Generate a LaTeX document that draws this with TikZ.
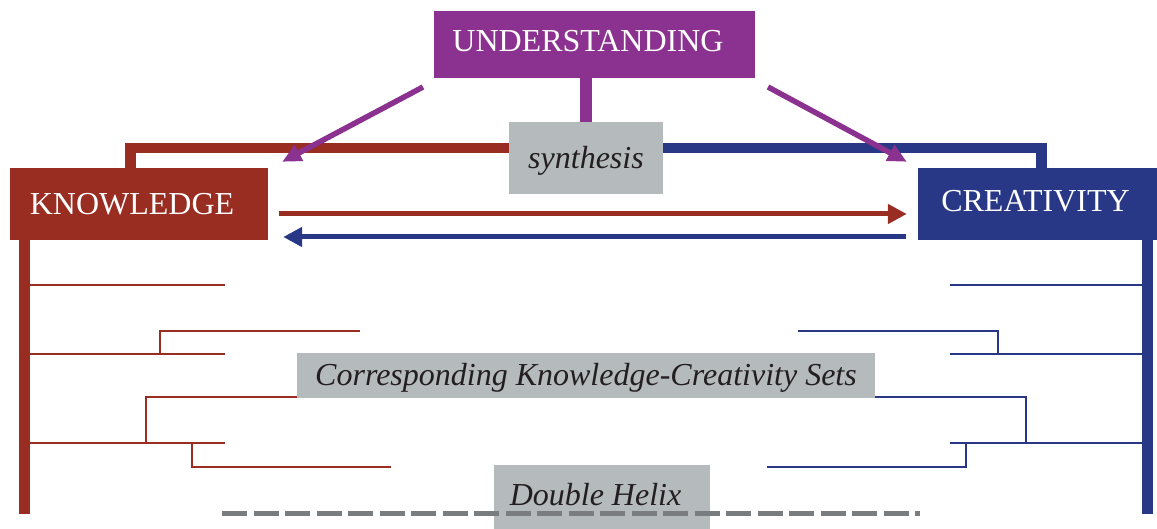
\documentclass[tikz,border=0pt]{standalone}
\usepackage{fontspec}
\setmainfont{Liberation Serif}
\usetikzlibrary{arrows.meta,calc}
\definecolor{upurple}{HTML}{8B318F}
\definecolor{kred}{HTML}{992D22}
\definecolor{cblue}{HTML}{283887}
\definecolor{boxgray}{HTML}{B5BABC}
\definecolor{dashgray}{HTML}{7A7D80}
\definecolor{labeltext}{HTML}{231F20}
\begin{document}
\begin{tikzpicture}[x=1pt,y=-1pt,
  boxlabel/.style={inner sep=0pt, text depth=0pt, font=\fontsize{32}{36}\selectfont},
  headbox/.style={boxlabel, text=white},
  graybox/.style={boxlabel, fill=boxgray, text=labeltext, font=\fontsize{32}{36}\selectfont\itshape},
  trunk/.style={line width=11pt},
  bond/.style={line width=10.5pt},
  twig/.style={line width=2.3pt},
  flow/.style={line width=5pt, -{Triangle[length=19pt,width=19pt]}},
  diag/.style={line width=5.5pt, upurple, -{Triangle[length=19pt,width=17pt]}},
  helix/.style={dashgray, line width=5pt, dash pattern=on 25pt off 6.5pt}
]
\useasboundingbox (0,0) rectangle (1157,529);

% boxes
\node[headbox, fill=upurple, minimum width=321pt, minimum height=67pt, text height=14.4pt] (und) at (594.5,44.5) {UNDERSTANDING\kern13pt};
\node[graybox, minimum width=154pt, minimum height=72pt, text height=20.6pt] (syn) at (586,158) {synthesis};
\node[headbox, fill=kred, minimum width=258pt, minimum height=72pt, text height=22pt] (know) at (139,204) {KNOWLEDGE\kern14pt};
\node[headbox, fill=cblue, minimum width=239pt, minimum height=72pt, text height=16pt] (crea) at (1037.5,204) {CREATIVITY\kern4pt};
\node[graybox, minimum width=578pt, minimum height=45pt, text height=19pt] (cks) at (586,375.5) {Corresponding Knowledge-Creativity Sets};
\node[graybox, minimum width=216pt, minimum height=64pt, text height=16pt] (dh) at (602,497) {Double Helix\kern13pt};

% understanding stem and synthesis bonds
\draw[upurple, line width=11.5pt] (syn.north |- und.south) -- (syn.north);
\draw[kred, bond] ([yshift=10pt]syn.west) -| ([xshift=-8.5pt]know.north);
\draw[cblue, bond] ([yshift=10pt]syn.east) -| ([xshift=4pt]crea.north);

% flows between knowledge and creativity
\draw[kred, flow] ([xshift=11pt,yshift=-10pt]know.east) -- ([xshift=-11pt,yshift=-10pt]crea.west);
\draw[cblue, flow] ([xshift=-12pt,yshift=-33pt]crea.west) -- ([xshift=15pt,yshift=-33pt]know.east);

% diagonal arrows from understanding
\coordinate (dl) at (423,87);
\coordinate (dr) at (768,87);
\draw[diag] (dl) -- ([xshift=14pt,yshift=6pt]know.north east);
\draw[diag] (dr) -- ([xshift=-11pt,yshift=6pt]crea.north west);

% trunks
\coordinate (kb) at (24.5,513.5);
\coordinate (cb) at (1147.5,513.5);

% red twigs
\coordinate (r1) at (225,284.7);
\coordinate (r2) at (225,353.7);
\coordinate (r3) at (225,443.3);
\coordinate (r2s) at (160,353.7);
\coordinate (r2e) at (360,330.7);
\coordinate (r3s) at (146,443.3);
\coordinate (r4s) at (192,443.3);
\coordinate (r4e) at (391,466.7);
\begin{scope}[kred, twig]
\draw (r1 -| kb) -- (r1);
\draw (r2 -| kb) -- (r2);
\draw (r2s) |- (r2e);
\draw (r3 -| kb) -- (r3);
\draw (r3s) |- ([yshift=1.2pt]cks.south west);
\draw (r4s) |- (r4e);
\end{scope}

% blue twigs
\coordinate (b1) at (950,284.7);
\coordinate (b2) at (950,353.7);
\coordinate (b3) at (950,443.3);
\coordinate (b2s) at (998,353.7);
\coordinate (b2e) at (798,330.7);
\coordinate (b3s) at (1026,443.3);
\coordinate (b4s) at (966,443.3);
\coordinate (b4e) at (767,466.7);
\begin{scope}[cblue, twig]
\draw (b1) -- (b1 -| cb);
\draw (b2) -- (b2 -| cb);
\draw (b2s) |- (b2e);
\draw (b3) -- (b3 -| cb);
\draw (b3s) |- ([yshift=1.2pt]cks.south east);
\draw (b4s) |- (b4e);
\end{scope}

\draw[kred, trunk] (know.south -| kb) -- (kb);
\draw[cblue, trunk] (crea.south -| cb) -- (cb);

% double helix axis
\coordinate (hl) at (222,513.5);
\coordinate (hr) at (920,513.5);
\draw[helix] (hl) -- (hr);
\end{tikzpicture}
\end{document}
